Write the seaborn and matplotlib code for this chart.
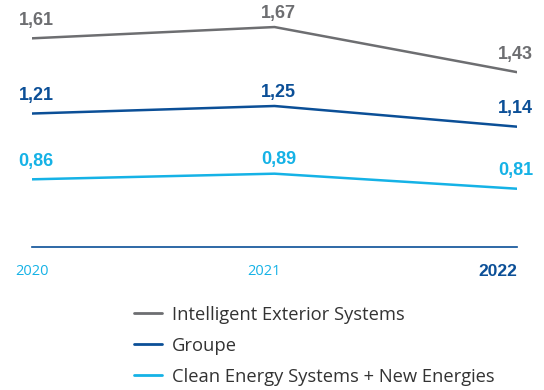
import seaborn as sns
import matplotlib.pyplot as plt
import matplotlib.transforms as mtransforms
import pandas as pd

years = [2020, 2021, 2022]
ies_values = [1.61, 1.67, 1.43]
groupe_values = [1.21, 1.25, 1.14]
ces_values = [0.86, 0.89, 0.81]
series_names = ["Intelligent Exterior Systems", "Groupe", "Clean Energy Systems + New Energies"]
year_labels = ["2020", "2021", "2022"]

colors = ["#6d6e71", "#0b4f97", "#15b2e6"]
# label offsets (points) per year
label_dx = [3, 3, -1]
label_dy = [13, 10, 13]

sns.set_style("white")
plt.rcParams['font.family'] = ['Open Sans', 'DejaVu Sans']

df = pd.DataFrame({
    "year": years * 3,
    "value": ies_values + groupe_values + ces_values,
    "series": [series_names[0]] * 3 + [series_names[1]] * 3 + [series_names[2]] * 3,
})

fig = plt.figure(figsize=(5.44, 3.9), dpi=100)
ax = fig.add_axes([32 / 544, 1 - 247 / 390, (517 - 32) / 544, 247 / 390])

sns.lineplot(data=df, x="year", y="value", hue="series", palette=colors,
             linewidth=1.8, ax=ax, legend=False)

ax.set_xlim(2020, 2022)
ax.set_ylim(0.5, 0.5 + 247 / 188)

# value labels above each point
for vals, col in zip([ies_values, groupe_values, ces_values], colors):
    for i, (x, v) in enumerate(zip(years, vals)):
        ax.annotate(f"{v:.2f}".replace(".", ","), (x, v), xytext=(label_dx[i], label_dy[i]),
                    textcoords="offset points", ha="center", va="center",
                    color=col, fontsize=13, fontweight="bold",
                    family=['Liberation Sans', 'DejaVu Sans'])

# axes styling
for s in ["top", "right", "left"]:
    ax.spines[s].set_visible(False)
ax.spines["bottom"].set_color("#0b4f97")
ax.spines["bottom"].set_linewidth(1.2)
ax.set_yticks([])
ax.set_xticks(years)
ax.set_xticklabels(year_labels)
ax.tick_params(axis="x", length=0, pad=12, labelsize=10.5)
tl = ax.get_xticklabels()
tl[0].set_color("#15b2e6")
tl[1].set_color("#15b2e6")
tl[1].set_transform(tl[1].get_transform() + mtransforms.ScaledTranslation(-10 / 100, 0, fig.dpi_scale_trans))
tl[2].set_color("#0b4f97")
tl[2].set_ha("right")
tl[2].set_fontweight("bold")
tl[2].set_fontsize(12.5)
tl[2].set_family(['Liberation Sans', 'DejaVu Sans'])
ax.set_xlabel("")
ax.set_ylabel("")

handles = [plt.Line2D([0], [0], color=c, lw=2) for c in colors]
fig.legend(handles, series_names, loc="upper left", bbox_to_anchor=(117 / 544, 1 - 289 / 390),
           frameon=False, fontsize=13.2, handlelength=1.55, handletextpad=0.55,
           labelspacing=0.72, labelcolor="#333333")

fig.savefig("out.png", dpi=100)
